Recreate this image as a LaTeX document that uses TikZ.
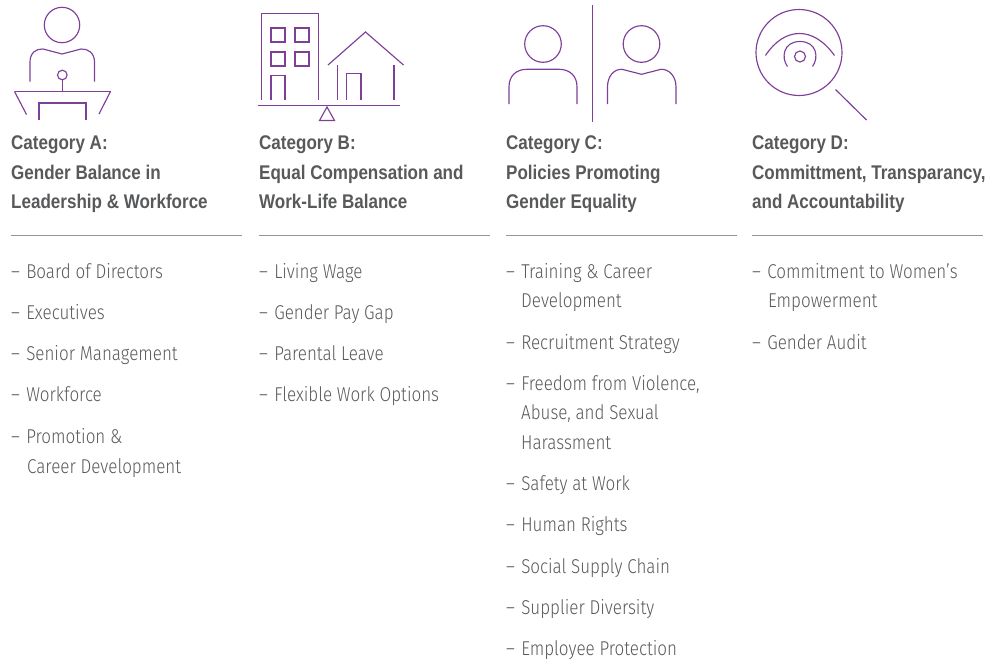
\documentclass[tikz,border=0pt]{standalone}
\usepackage{fontspec}
\setmainfont[FakeStretch=0.86]{Liberation Sans}
\newfontfamily\itemfont[FakeStretch=0.85]{Fira Sans Light}
\definecolor{iconpurple}{HTML}{7F3F98}
\definecolor{txtgray}{HTML}{58595B}
\definecolor{rulegray}{HTML}{939598}
\newcommand{\dashmark}{–\kern1.5pt\ }
\tikzset{
  icon/.style={draw=iconpurple,line width=1.15pt},
  rulel/.style={draw=rulegray,line width=1pt},
  head/.style={anchor=base west,inner sep=0pt,font=\fontsize{19.8}{22}\selectfont\bfseries,text=txtgray},
  item/.style={anchor=base west,inner sep=0pt,font=\itemfont\fontsize{20}{24}\selectfont,text=txtgray}
}
\begin{document}
\begin{tikzpicture}[x=1pt,y=-1pt]
\useasboundingbox (0,0) rectangle (997,659);
% Icon A
\draw[icon] (62,25) circle (17.7);
\draw[icon] (30,81.5) -- (30,62) .. controls (30,53) and (36,48.5) .. (43,49) -- (62,54) -- (81,49) .. controls (88,48.5) and (94.5,53) .. (94.5,62) -- (94.5,81.5);
\draw[icon] (62.3,75) circle (4.8);
\draw[icon] (62.3,79.8) -- (62.3,91.5);
\draw[icon] (14.5,91.5) -- (110.5,91.5);
\draw[icon] (14.5,91.5) -- (26.5,114.5);
\draw[icon] (110.5,91.5) -- (99,114);
\draw[icon] (39,119.5) -- (39,103) -- (86,103) -- (86,119.5);
% Icon B
\draw[icon] (261.5,99.5) -- (261.5,13.8) -- (318.5,13.8) -- (318.5,99.5);
\draw[icon] (271,28) rectangle (285,42);
\draw[icon] (295,28) rectangle (309,42);
\draw[icon] (271,52) rectangle (285,66);
\draw[icon] (295,52) rectangle (309,66);
\draw[icon] (271,99.5) -- (271,75.5) -- (285,75.5) -- (285,99.5);
\draw[icon] (328,65) -- (365.5,32) -- (403.5,65);
\draw[icon] (337.3,99.5) -- (337.3,65);
\draw[icon] (394,99.5) -- (394,65);
\draw[icon] (346.5,99.5) -- (346.5,73.5) -- (361,73.5) -- (361,99.5);
\draw[icon] (258,105.3) -- (400,105.3);
\draw[icon] (327,107) -- (319.5,120.5) -- (334.5,120.5) -- cycle;
% Icon C
\draw[icon] (592.3,5) -- (592.3,121.5);
\draw[icon] (543,44) circle (18.3);
\draw[icon] (509,104) -- (509,87) .. controls (509,76) and (516,69.3) .. (527,69.3) -- (559,69.3) .. controls (570,69.3) and (577,76) .. (577,87) -- (577,104);
\draw[icon] (641.5,44) circle (18.3);
\draw[icon] (607.5,104) -- (607.5,87) .. controls (607.5,76) and (614,69) .. (622,69.3) -- (641.5,74.3) -- (661,69.3) .. controls (669,69) and (676,76) .. (676,87) -- (676,104);
% Icon D
\draw[icon] (799,52.5) circle (43);
\draw[icon] (765.5,55.5) .. controls (775,41) and (787,33.5) .. (799.5,33.5) .. controls (812,33.5) and (824,41) .. (834.5,55.5);
\draw[icon] (787.5,66.5) .. controls (781,58) and (783,41.5) .. (800,41.5) .. controls (817,41.5) and (819,58) .. (812.5,66.5);
\draw[icon] (800,56.5) circle (5.5);
\draw[icon] (835.5,89.5) -- (866.5,120);
% Column A
\node[head] (ha1) at (11,149) {Category A:};
\node[head] (ha2) at (11,179) {Gender Balance in};
\node[head] (ha3) at (11,208.5) {Leadership \& Workforce};
\coordinate (ra1) at (11,235.5); \coordinate (ra2) at (242,235.5);
\draw[rulel] (ra1) -- (ra2);
\node[item] (a1) at (11,278) {\dashmark Board of Directors};
\node[item] (a2) at (11,319) {\dashmark Executives};
\node[item] (a3) at (11,360.5) {\dashmark Senior Management};
\node[item] (a4) at (11,401.5) {\dashmark Workforce};
\node[item] (a5) at (11,443) {\dashmark Promotion \&};
\node[item] (a6) at (27,473) {Career Development};
% Column B
\node[head] (hb1) at (259,149) {Category B:};
\node[head] (hb2) at (259,179) {Equal Compensation and};
\node[head] (hb3) at (259,208.5) {Work-Life Balance};
\coordinate (rb1) at (259,235.5); \coordinate (rb2) at (489.5,235.5);
\draw[rulel] (rb1) -- (rb2);
\node[item] (b1) at (259,278) {\dashmark Living Wage};
\node[item] (b2) at (259,319) {\dashmark Gender Pay Gap};
\node[item] (b3) at (259,360.5) {\dashmark Parental Leave};
\node[item] (b4) at (259,401.5) {\dashmark Flexible Work Options};
% Column C
\node[head] (hc1) at (506,149) {Category C:};
\node[head] (hc2) at (506,179) {Policies Promoting};
\node[head] (hc3) at (506,208.5) {Gender Equality};
\coordinate (rc1) at (506,235.5); \coordinate (rc2) at (736.5,235.5);
\draw[rulel] (rc1) -- (rc2);
\node[item] (c1) at (506,278) {\dashmark Training \& Career};
\node[item] (c2) at (521,307) {Development};
\node[item] (c3) at (506,349) {\dashmark Recruitment Strategy};
\node[item] (c4) at (506,390) {\dashmark Freedom from Violence,};
\node[item] (c5) at (521,419.5) {Abuse, and Sexual};
\node[item] (c6) at (521,449) {Harassment};
\node[item] (c7) at (506,490) {\dashmark Safety at Work};
\node[item] (c8) at (506,531) {\dashmark Human Rights};
\node[item] (c9) at (506,573) {\dashmark Social Supply Chain};
\node[item] (c10) at (506,614) {\dashmark Supplier Diversity};
\node[item] (c11) at (506,655) {\dashmark Employee Protection};
% Column D
\node[head] (hd1) at (752,149) {Category D:};
\node[head] (hd2) at (752,179) {Committment, Transparancy,};
\node[head] (hd3) at (752,208.5) {and Accountability};
\coordinate (rd1) at (752,235.5); \coordinate (rd2) at (983,235.5);
\draw[rulel] (rd1) -- (rd2);
\node[item] (d1) at (752,278) {\dashmark Commitment to Women’s};
\node[item] (d2) at (768,307) {Empowerment};
\node[item] (d3) at (752,349) {\dashmark Gender Audit};
\end{tikzpicture}
\end{document}
